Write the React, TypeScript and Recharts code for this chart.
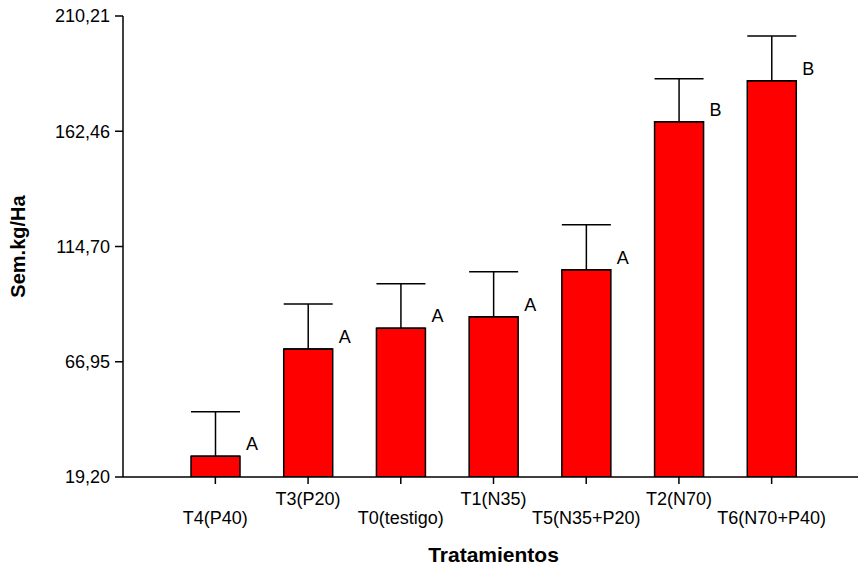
import React from "react"
import { BarChart, Bar, XAxis, YAxis, ErrorBar, LabelList } from "recharts"

const categories = ["T4(P40)", "T3(P20)", "T0(testigo)", "T1(N35)", "T5(N35+P20)", "T2(N70)", "T6(N70+P40)"]
const means = [27.8, 72.2, 80.8, 85.6, 105.1, 166.4, 183.4]
const upperErrors = [18.4, 18.7, 18.5, 18.6, 18.6, 17.8, 18.5]
const letters = ["A", "A", "A", "A", "A", "B", "B"]
const yTicks = [19.2, 66.95, 114.7, 162.46, 210.21]

const data = categories.map((name, i) => ({
  name,
  mean: means[i],
  err: [0, upperErrors[i]],
  letter: letters[i],
}))

const FONT = "'Liberation Sans', Arial, sans-serif"

// labels alternate between two rows so the long names don't collide
function StaggeredTick(props: any) {
  const { x, y, payload, index } = props
  const dy = index % 2 === 0 ? 38 : 19
  return (
    <text x={x} y={y + dy} textAnchor="middle" fontSize={18} fill="#000" fontFamily={FONT}>
      {payload.value}
    </text>
  )
}

function LetterLabel(props: any) {
  const { x, y, width, value } = props
  return (
    <text x={x + width + 6} y={y - 6} fontSize={18} fill="#000" fontFamily={FONT}>
      {value}
    </text>
  )
}

export default function App() {
  return (
    <div style={{ position: "absolute", left: 0, top: 0, width: 858, height: 568, background: "#fff", fontFamily: FONT }}>
      <BarChart width={858} height={568} data={data} margin={{ top: 16, right: 0, bottom: 31, left: 0 }}>
        <XAxis
          dataKey="name"
          height={60}
          padding={{ left: 46, right: 40 }}
          axisLine={{ stroke: "#000", strokeWidth: 1.5 }}
          tickLine={{ stroke: "#000", strokeWidth: 1.5 }}
          tickSize={7}
          tickMargin={2}
          interval={0}
          tick={<StaggeredTick />}
          label={{
            content: (p: any) => {
              const vb = p.viewBox
              return (
                <text x={vb.x + vb.width / 2 + 3} y={562} textAnchor="middle" fontSize={21} fontWeight="bold" fill="#000" fontFamily={FONT}>
                  Tratamientos
                </text>
              )
            },
          }}
        />
        <YAxis
          width={123}
          domain={[19.2, 210.21]}
          ticks={yTicks}
          allowDataOverflow
          tickFormatter={(v: number) => v.toFixed(2).replace(".", ",")}
          axisLine={{ stroke: "#000", strokeWidth: 1.5 }}
          tickLine={{ stroke: "#000", strokeWidth: 1.5 }}
          tickSize={8}
          tickMargin={5}
          tick={{ fontSize: 18, fill: "#000", fontFamily: FONT }}
          label={{
            content: (p: any) => {
              const vb = p.viewBox
              const cy = vb.y + vb.height / 2
              return (
                <text x={18} y={cy} transform={`rotate(-90 18 ${cy})`} textAnchor="middle" dominantBaseline="central" fontSize={20} fontWeight="bold" fill="#000" fontFamily={FONT}>
                  Sem.kg/Ha
                </text>
              )
            },
          }}
        />
        <Bar dataKey="mean" fill="#FF0000" stroke="#000" strokeWidth={1.5} barSize={49} isAnimationActive={false}>
          <ErrorBar dataKey="err" width={24.5} stroke="#000" strokeWidth={1.5} direction="y" isAnimationActive={false} />
          <LabelList dataKey="letter" content={LetterLabel} />
        </Bar>
      </BarChart>
    </div>
  )
}
